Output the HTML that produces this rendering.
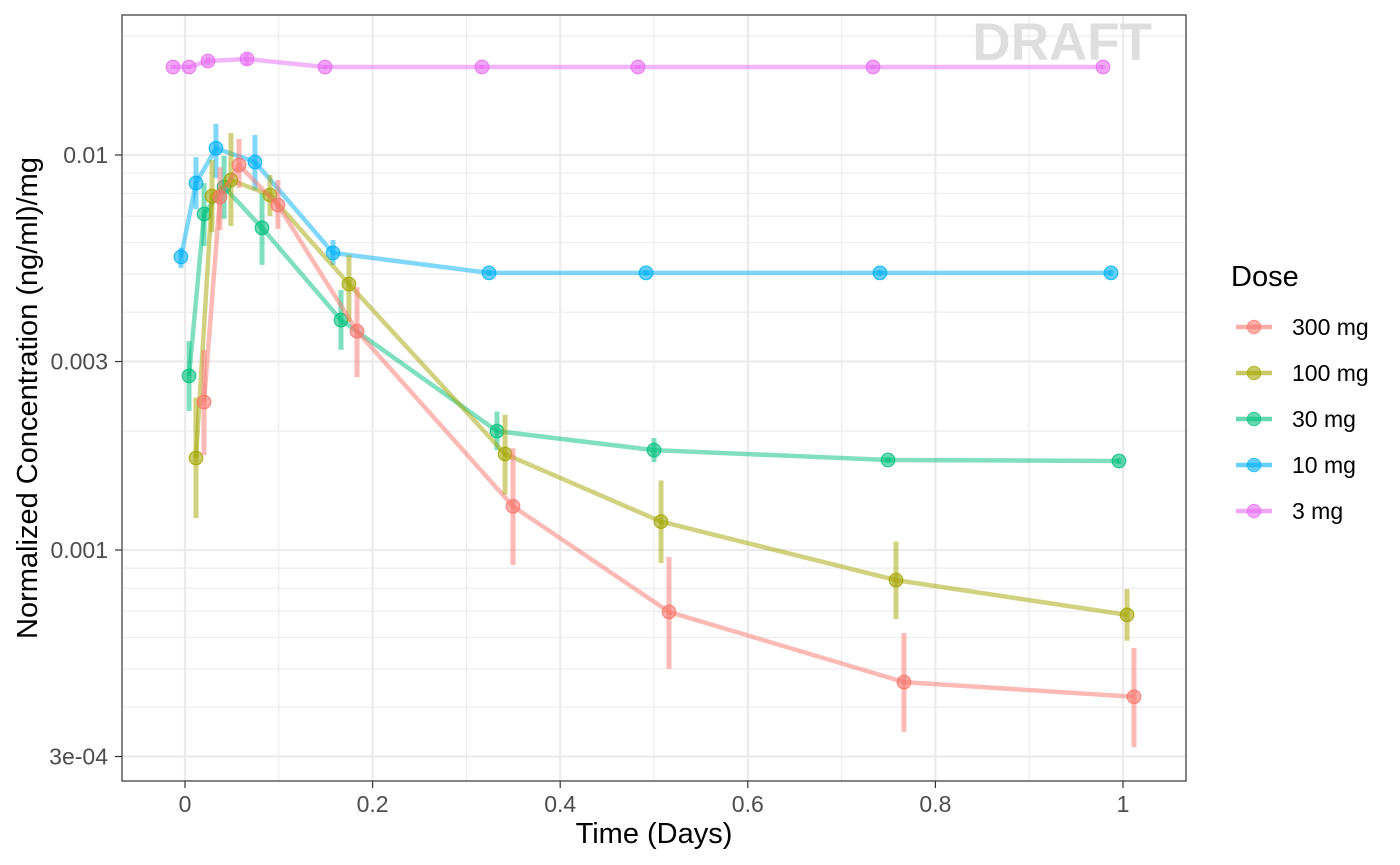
<!DOCTYPE html>
<html><head><meta charset="utf-8"><style>
body{margin:0;background:#fff;}
svg{display:block;font-family:"Liberation Sans",sans-serif;}
</style></head><body>
<svg id="chart" width="1400" height="865">
<rect width="1400" height="865" fill="#fff"/>
<g id="grid"></g>
<text x="1152" y="60" text-anchor="end" font-size="53" font-weight="bold" fill="#dedede">DRAFT</text>
<g id="series"></g>
<rect x="122" y="15" width="1064" height="766" fill="none" stroke="#333" stroke-width="1.2"/>
<g id="axes"></g>
<text x="654" y="843" text-anchor="middle" font-size="29" fill="#000">Time (Days)</text>
<text transform="translate(37,398) rotate(-90)" text-anchor="middle" font-size="29" fill="#000">Normalized Concentration (ng/ml)/mg</text>
<g id="legend">
<text x="1231" y="286" font-size="29" fill="#000">Dose</text>
</g>
</svg>
<script>
const doses = ["300 mg","100 mg","30 mg","10 mg","3 mg"];
const colors = ["#F8766D","#A3A500","#00BF7D","#00B0F6","#E76BF3"];
const xTicks = [0,0.2,0.4,0.6,0.8,1];
const xTickLabels = ["0","0.2","0.4","0.6","0.8","1"];
const yTicks = [0.0003,0.001,0.003,0.01];
const yTickLabels = ["3e-04","0.001","0.003","0.01"];

const t300 = [0.0203,0.0373,0.0576,0.0991,0.1834,0.3497,0.516,0.7665,1.0117];
const v300 = [0.00237,0.00783,0.00943,0.00747,0.00358,0.00129,0.000697,0.000463,0.000425];
const lo300 = [0.00174,0.00646,0.00825,0.0065,0.00274,0.000917,0.0005,0.000346,0.000317];
const hi300 = [0.00321,0.00932,0.01098,0.00864,0.00463,0.00181,0.00096,0.000617,0.000565];

const t100 = [0.0117,0.0288,0.049,0.0906,0.1748,0.3412,0.5075,0.758,1.0043];
const v100 = [0.00171,0.00787,0.00864,0.00792,0.00471,0.00175,0.00118,0.000839,0.000685];
const lo100 = [0.001205,0.00638,0.00661,0.00701,0.00378,0.00138,0.000927,0.000669,0.000589];
const hi100 = [0.00243,0.00971,0.01137,0.0089,0.00558,0.0022,0.0015,0.00105,0.000796];

const t30 = [0.0043,0.0203,0.0416,0.0821,0.1663,0.3326,0.5,0.7495,0.9957];
const v30 = [0.00276,0.00709,0.0083,0.00654,0.00382,0.0020,0.00179,0.00169,0.00168];
const lo30 = [0.00225,0.00588,0.00689,0.00527,0.00321,0.00179,0.00167,0.00166,0.00165];
const hi30 = [0.00338,0.00849,0.00994,0.00801,0.00455,0.00224,0.00192,0.00172,0.00171];

const t10 = [-0.0043,0.0117,0.033,0.0746,0.1578,0.3241,0.4915,0.7409,0.9872];
const v10 = [0.00552,0.00849,0.0104,0.0096,0.00565,0.00503,0.00503,0.00503,0.00503];
const lo10 = [0.00518,0.0073,0.00875,0.00815,0.00527,0.00494,0.00494,0.00494,0.00494];
const hi10 = [0.00582,0.00988,0.012,0.01124,0.00609,0.00512,0.00512,0.00512,0.00512];

const t3 = [-0.0128,0.0043,0.0245,0.0661,0.1493,0.3166,0.4829,0.7335,0.9787];
const v3 = [0.0167,0.0167,0.0173,0.0175,0.0167,0.0167,0.0167,0.0167,0.0167];
const lo3 = [0.0165,0.0165,0.0169,0.0169,0.0165,0.0165,0.0165,0.0165,0.0165];
const hi3 = [0.0169,0.0169,0.0177,0.0181,0.0169,0.0169,0.0169,0.0169,0.0169];

const NS="http://www.w3.org/2000/svg";
const X0=185, X1=1123, Y1=155, YD=395;
function xs(t){return X0+(X1-X0)*t;}
function ys(v){return Y1-YD*(Math.log10(v)+2);}
function mk(tag,attrs,parent){const e=document.createElementNS(NS,tag);for(const k in attrs)e.setAttribute(k,attrs[k]);parent.appendChild(e);return e;}

const grid=document.getElementById('grid');
for(let p=-4;p<=-1;p++)for(let k=1;k<=9;k++){const v=k*Math.pow(10,p);const y=ys(v);if(y<15||y>781)continue;
 const l=mk('line',{x1:122,x2:1186,y1:y,y2:y,stroke:'#ebebeb','stroke-width':1.1},grid);
 
 }
for(let i=0;i<xTicks.length-1;i++){const x=xs((xTicks[i]+xTicks[i+1])/2);
 const l=mk('line',{x1:x,x2:x,y1:15,y2:781,stroke:'#ebebeb','stroke-width':1.1},grid);
 
 }
yTicks.forEach(v=>{const y=ys(v);
 const l=mk('line',{x1:122,x2:1186,y1:y,y2:y,stroke:'#ebebeb','stroke-width':2.2},grid);
 
 });
xTicks.forEach(t=>{const x=xs(t);
 const l=mk('line',{x1:x,x2:x,y1:15,y2:781,stroke:'#ebebeb','stroke-width':2.2},grid);
 
 });

const axes=document.getElementById('axes');
xTicks.forEach((t,i)=>{const x=xs(t);
 const tk=mk('line',{x1:x,x2:x,y1:781,y2:788,stroke:'#333','stroke-width':1.2},axes);
 
 
 const tx=mk('text',{x:x,y:812,'text-anchor':'middle','font-size':23,fill:'#4d4d4d'},axes);
 tx.textContent=xTickLabels[i];
 
 });
yTicks.forEach((v,i)=>{const y=ys(v);
 const tk=mk('line',{x1:115,x2:122,y1:y,y2:y,stroke:'#333','stroke-width':1.2},axes);
 
 
 const tx=mk('text',{x:108,y:y+8,'text-anchor':'end','font-size':23,fill:'#4d4d4d'},axes);
 tx.textContent=yTickLabels[i];
 
 });

const series=document.getElementById('series');
const T=[t300,t100,t30,t10,t3],V=[v300,v100,v30,v10,v3],LO=[lo300,lo100,lo30,lo10,lo3],HI=[hi300,hi100,hi30,hi10,hi3];
for(let s=4;s>=0;s--){
 const g=mk('g',{},series);
 
 
 const pts=T[s].map((t,i)=>xs(t)+','+ys(V[s][i])).join(' ');
 const pl=mk('polyline',{points:pts,fill:'none',stroke:colors[s],'stroke-width':4.5,'stroke-opacity':0.5,'stroke-linejoin':'round'},g);
 
 
 T[s].forEach((t,i)=>{const x=xs(t);
  const eb=mk('line',{x1:x,x2:x,y1:ys(LO[s][i]),y2:ys(HI[s][i]),stroke:colors[s],'stroke-width':5,'stroke-opacity':0.5},g);
  
  
  const c=mk('circle',{cx:x,cy:ys(V[s][i]),r:6.8,fill:colors[s],'fill-opacity':0.6,stroke:colors[s],'stroke-opacity':0.8,'stroke-width':1.2},g);
  
  });
}

const legend=document.getElementById('legend');
doses.forEach((d,i)=>{const y=327+i*46;
 const g=mk('g',{},legend);
 
 
 mk('line',{x1:1236,x2:1272,y1:y,y2:y,stroke:colors[i],'stroke-width':4.5,'stroke-opacity':0.6},g);
 mk('circle',{cx:1254,cy:y,r:6.8,fill:colors[i],'fill-opacity':0.6,stroke:colors[i],'stroke-opacity':0.7},g);
 const tx=mk('text',{x:1292,y:y+8,'font-size':23,fill:'#000'},g);
 tx.textContent=d;});
</script>
</body></html>
